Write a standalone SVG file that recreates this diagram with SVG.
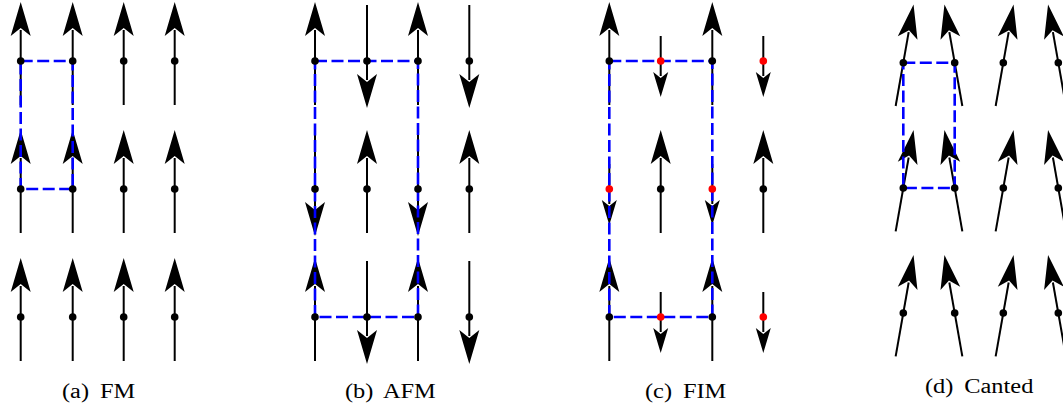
<svg xmlns="http://www.w3.org/2000/svg" xmlns:xlink="http://www.w3.org/1999/xlink" width="1063" height="410" viewBox="0 0 1063 410">
<style>
.shaft{stroke:#000;stroke-width:2;fill:none}
.head{fill:#000;stroke:none}
.cell{fill:none;stroke:#0000ff;stroke-width:2.6;stroke-dasharray:12 4.5}
.bd{fill:#000}
.rd{fill:#ff0000}
.lbl{font-family:"Liberation Serif","Times New Roman",serif;font-size:20.5px;fill:#000;word-spacing:4px}
</style>
<defs>
<g id="up">
<line class="shaft" x1="0" y1="44" x2="0" y2="-31"/>
<path class="head" d="M0,-59 L10,-25 L0,-33 L-10,-25 Z"/>
</g>
<g id="sdown">
<line class="shaft" x1="0" y1="-25" x2="0" y2="15"/>
<path class="head" d="M0,36 L7.5,11 L0,17 L-7.5,11 Z"/>
</g>
</defs>
<rect width="1063" height="410" fill="#fff"/>

<g id="panel-a">
<g id="spins-a">
<use xlink:href="#up" href="#up" transform="translate(20.7,61)"/>
<use xlink:href="#up" href="#up" transform="translate(72.7,61)"/>
<use xlink:href="#up" href="#up" transform="translate(123.7,61)"/>
<use xlink:href="#up" href="#up" transform="translate(174.7,61)"/>
<use xlink:href="#up" href="#up" transform="translate(20.7,189)"/>
<use xlink:href="#up" href="#up" transform="translate(72.7,189)"/>
<use xlink:href="#up" href="#up" transform="translate(123.7,189)"/>
<use xlink:href="#up" href="#up" transform="translate(174.7,189)"/>
<use xlink:href="#up" href="#up" transform="translate(20.7,317)"/>
<use xlink:href="#up" href="#up" transform="translate(72.7,317)"/>
<use xlink:href="#up" href="#up" transform="translate(123.7,317)"/>
<use xlink:href="#up" href="#up" transform="translate(174.7,317)"/>
</g>
<path id="cell-a" class="cell" d="M20.7,61 H72.7 V189 H20.7 Z"/>
<g id="dots-a" class="bd">
<circle cx="20.7" cy="61" r="3.8"/><circle cx="72.7" cy="61" r="3.8"/><circle cx="123.7" cy="61" r="3.8"/><circle cx="174.7" cy="61" r="3.8"/>
<circle cx="20.7" cy="189" r="3.8"/><circle cx="72.7" cy="189" r="3.8"/><circle cx="123.7" cy="189" r="3.8"/><circle cx="174.7" cy="189" r="3.8"/>
<circle cx="20.7" cy="317" r="3.8"/><circle cx="72.7" cy="317" r="3.8"/><circle cx="123.7" cy="317" r="3.8"/><circle cx="174.7" cy="317" r="3.8"/>
</g>
<text id="label-a" class="lbl" transform="translate(62,398) scale(1.19,1)">(a) FM</text>
</g>

<g id="panel-b">
<g id="spins-b">
<use xlink:href="#up" href="#up" transform="translate(315,61)"/>
<use xlink:href="#up" href="#up" transform="translate(367,61) rotate(180 0 -6)"/>
<use xlink:href="#up" href="#up" transform="translate(418,61)"/>
<use xlink:href="#up" href="#up" transform="translate(469.3,61) rotate(180 0 -6)"/>
<use xlink:href="#up" href="#up" transform="translate(315,189) rotate(180 0 -6)"/>
<use xlink:href="#up" href="#up" transform="translate(367,189)"/>
<use xlink:href="#up" href="#up" transform="translate(418,189) rotate(180 0 -6)"/>
<use xlink:href="#up" href="#up" transform="translate(469.3,189)"/>
<use xlink:href="#up" href="#up" transform="translate(315,317)"/>
<use xlink:href="#up" href="#up" transform="translate(367,317) rotate(180 0 -6)"/>
<use xlink:href="#up" href="#up" transform="translate(418,317)"/>
<use xlink:href="#up" href="#up" transform="translate(469.3,317) rotate(180 0 -6)"/>
</g>
<path id="cell-b" class="cell" d="M315,61 H418 V317 H315 Z"/>
<g id="dots-b" class="bd">
<circle cx="315" cy="61" r="3.8"/><circle cx="367" cy="61" r="3.8"/><circle cx="418" cy="61" r="3.8"/><circle cx="469.3" cy="61" r="3.8"/>
<circle cx="315" cy="189" r="3.8"/><circle cx="367" cy="189" r="3.8"/><circle cx="418" cy="189" r="3.8"/><circle cx="469.3" cy="189" r="3.8"/>
<circle cx="315" cy="317" r="3.8"/><circle cx="367" cy="317" r="3.8"/><circle cx="418" cy="317" r="3.8"/><circle cx="469.3" cy="317" r="3.8"/>
</g>
<text id="label-b" class="lbl" transform="translate(345,398) scale(1.19,1)">(b) AFM</text>
</g>

<g id="panel-c">
<g id="spins-c">
<use xlink:href="#up" href="#up" transform="translate(609.3,61)"/>
<use xlink:href="#sdown" href="#sdown" transform="translate(660.7,61)"/>
<use xlink:href="#up" href="#up" transform="translate(712.3,61)"/>
<use xlink:href="#sdown" href="#sdown" transform="translate(763.3,61)"/>
<use xlink:href="#sdown" href="#sdown" transform="translate(609.3,189)"/>
<use xlink:href="#up" href="#up" transform="translate(660.7,189)"/>
<use xlink:href="#sdown" href="#sdown" transform="translate(712.3,189)"/>
<use xlink:href="#up" href="#up" transform="translate(763.3,189)"/>
<use xlink:href="#up" href="#up" transform="translate(609.3,317)"/>
<use xlink:href="#sdown" href="#sdown" transform="translate(660.7,317)"/>
<use xlink:href="#up" href="#up" transform="translate(712.3,317)"/>
<use xlink:href="#sdown" href="#sdown" transform="translate(763.3,317)"/>
</g>
<path id="cell-c" class="cell" d="M609.3,61 H712.3 V317 H609.3 Z"/>
<g id="dots-c">
<circle class="bd" cx="609.3" cy="61" r="3.8"/><circle class="rd" cx="660.7" cy="61" r="3.8"/><circle class="bd" cx="712.3" cy="61" r="3.8"/><circle class="rd" cx="763.3" cy="61" r="3.8"/>
<circle class="rd" cx="609.3" cy="189" r="3.8"/><circle class="bd" cx="660.7" cy="189" r="3.8"/><circle class="rd" cx="712.3" cy="189" r="3.8"/><circle class="bd" cx="763.3" cy="189" r="3.8"/>
<circle class="bd" cx="609.3" cy="317" r="3.8"/><circle class="rd" cx="660.7" cy="317" r="3.8"/><circle class="bd" cx="712.3" cy="317" r="3.8"/><circle class="rd" cx="763.3" cy="317" r="3.8"/>
</g>
<text id="label-c" class="lbl" transform="translate(645,398) scale(1.19,1)">(c) FIM</text>
</g>

<g id="panel-d">
<g id="spins-d">
<use xlink:href="#up" href="#up" transform="translate(903.3,62.7) rotate(10)"/>
<use xlink:href="#up" href="#up" transform="translate(954.7,62.7) rotate(-10)"/>
<use xlink:href="#up" href="#up" transform="translate(1003.3,62.7) rotate(10)"/>
<use xlink:href="#up" href="#up" transform="translate(1058.3,62.7) rotate(-10)"/>
<use xlink:href="#up" href="#up" transform="translate(903.3,188) rotate(10)"/>
<use xlink:href="#up" href="#up" transform="translate(954.7,188) rotate(-10)"/>
<use xlink:href="#up" href="#up" transform="translate(1003.3,188) rotate(10)"/>
<use xlink:href="#up" href="#up" transform="translate(1058.3,188) rotate(-10)"/>
<use xlink:href="#up" href="#up" transform="translate(903.3,313) rotate(10)"/>
<use xlink:href="#up" href="#up" transform="translate(954.7,313) rotate(-10)"/>
<use xlink:href="#up" href="#up" transform="translate(1003.3,313) rotate(10)"/>
<use xlink:href="#up" href="#up" transform="translate(1058.3,313) rotate(-10)"/>
</g>
<path id="cell-d" class="cell" d="M903.3,62.7 H954.7 V188 H903.3 Z"/>
<g id="dots-d" class="bd">
<circle cx="903.3" cy="62.7" r="3.8"/><circle cx="954.7" cy="62.7" r="3.8"/><circle cx="1003.3" cy="62.7" r="3.8"/><circle cx="1058.3" cy="62.7" r="3.8"/>
<circle cx="903.3" cy="188" r="3.8"/><circle cx="954.7" cy="188" r="3.8"/><circle cx="1003.3" cy="188" r="3.8"/><circle cx="1058.3" cy="188" r="3.8"/>
<circle cx="903.3" cy="313" r="3.8"/><circle cx="954.7" cy="313" r="3.8"/><circle cx="1003.3" cy="313" r="3.8"/><circle cx="1058.3" cy="313" r="3.8"/>
</g>
<text id="label-d" class="lbl" transform="translate(925,392.5) scale(1.19,1)">(d) Canted</text>
</g>
</svg>
